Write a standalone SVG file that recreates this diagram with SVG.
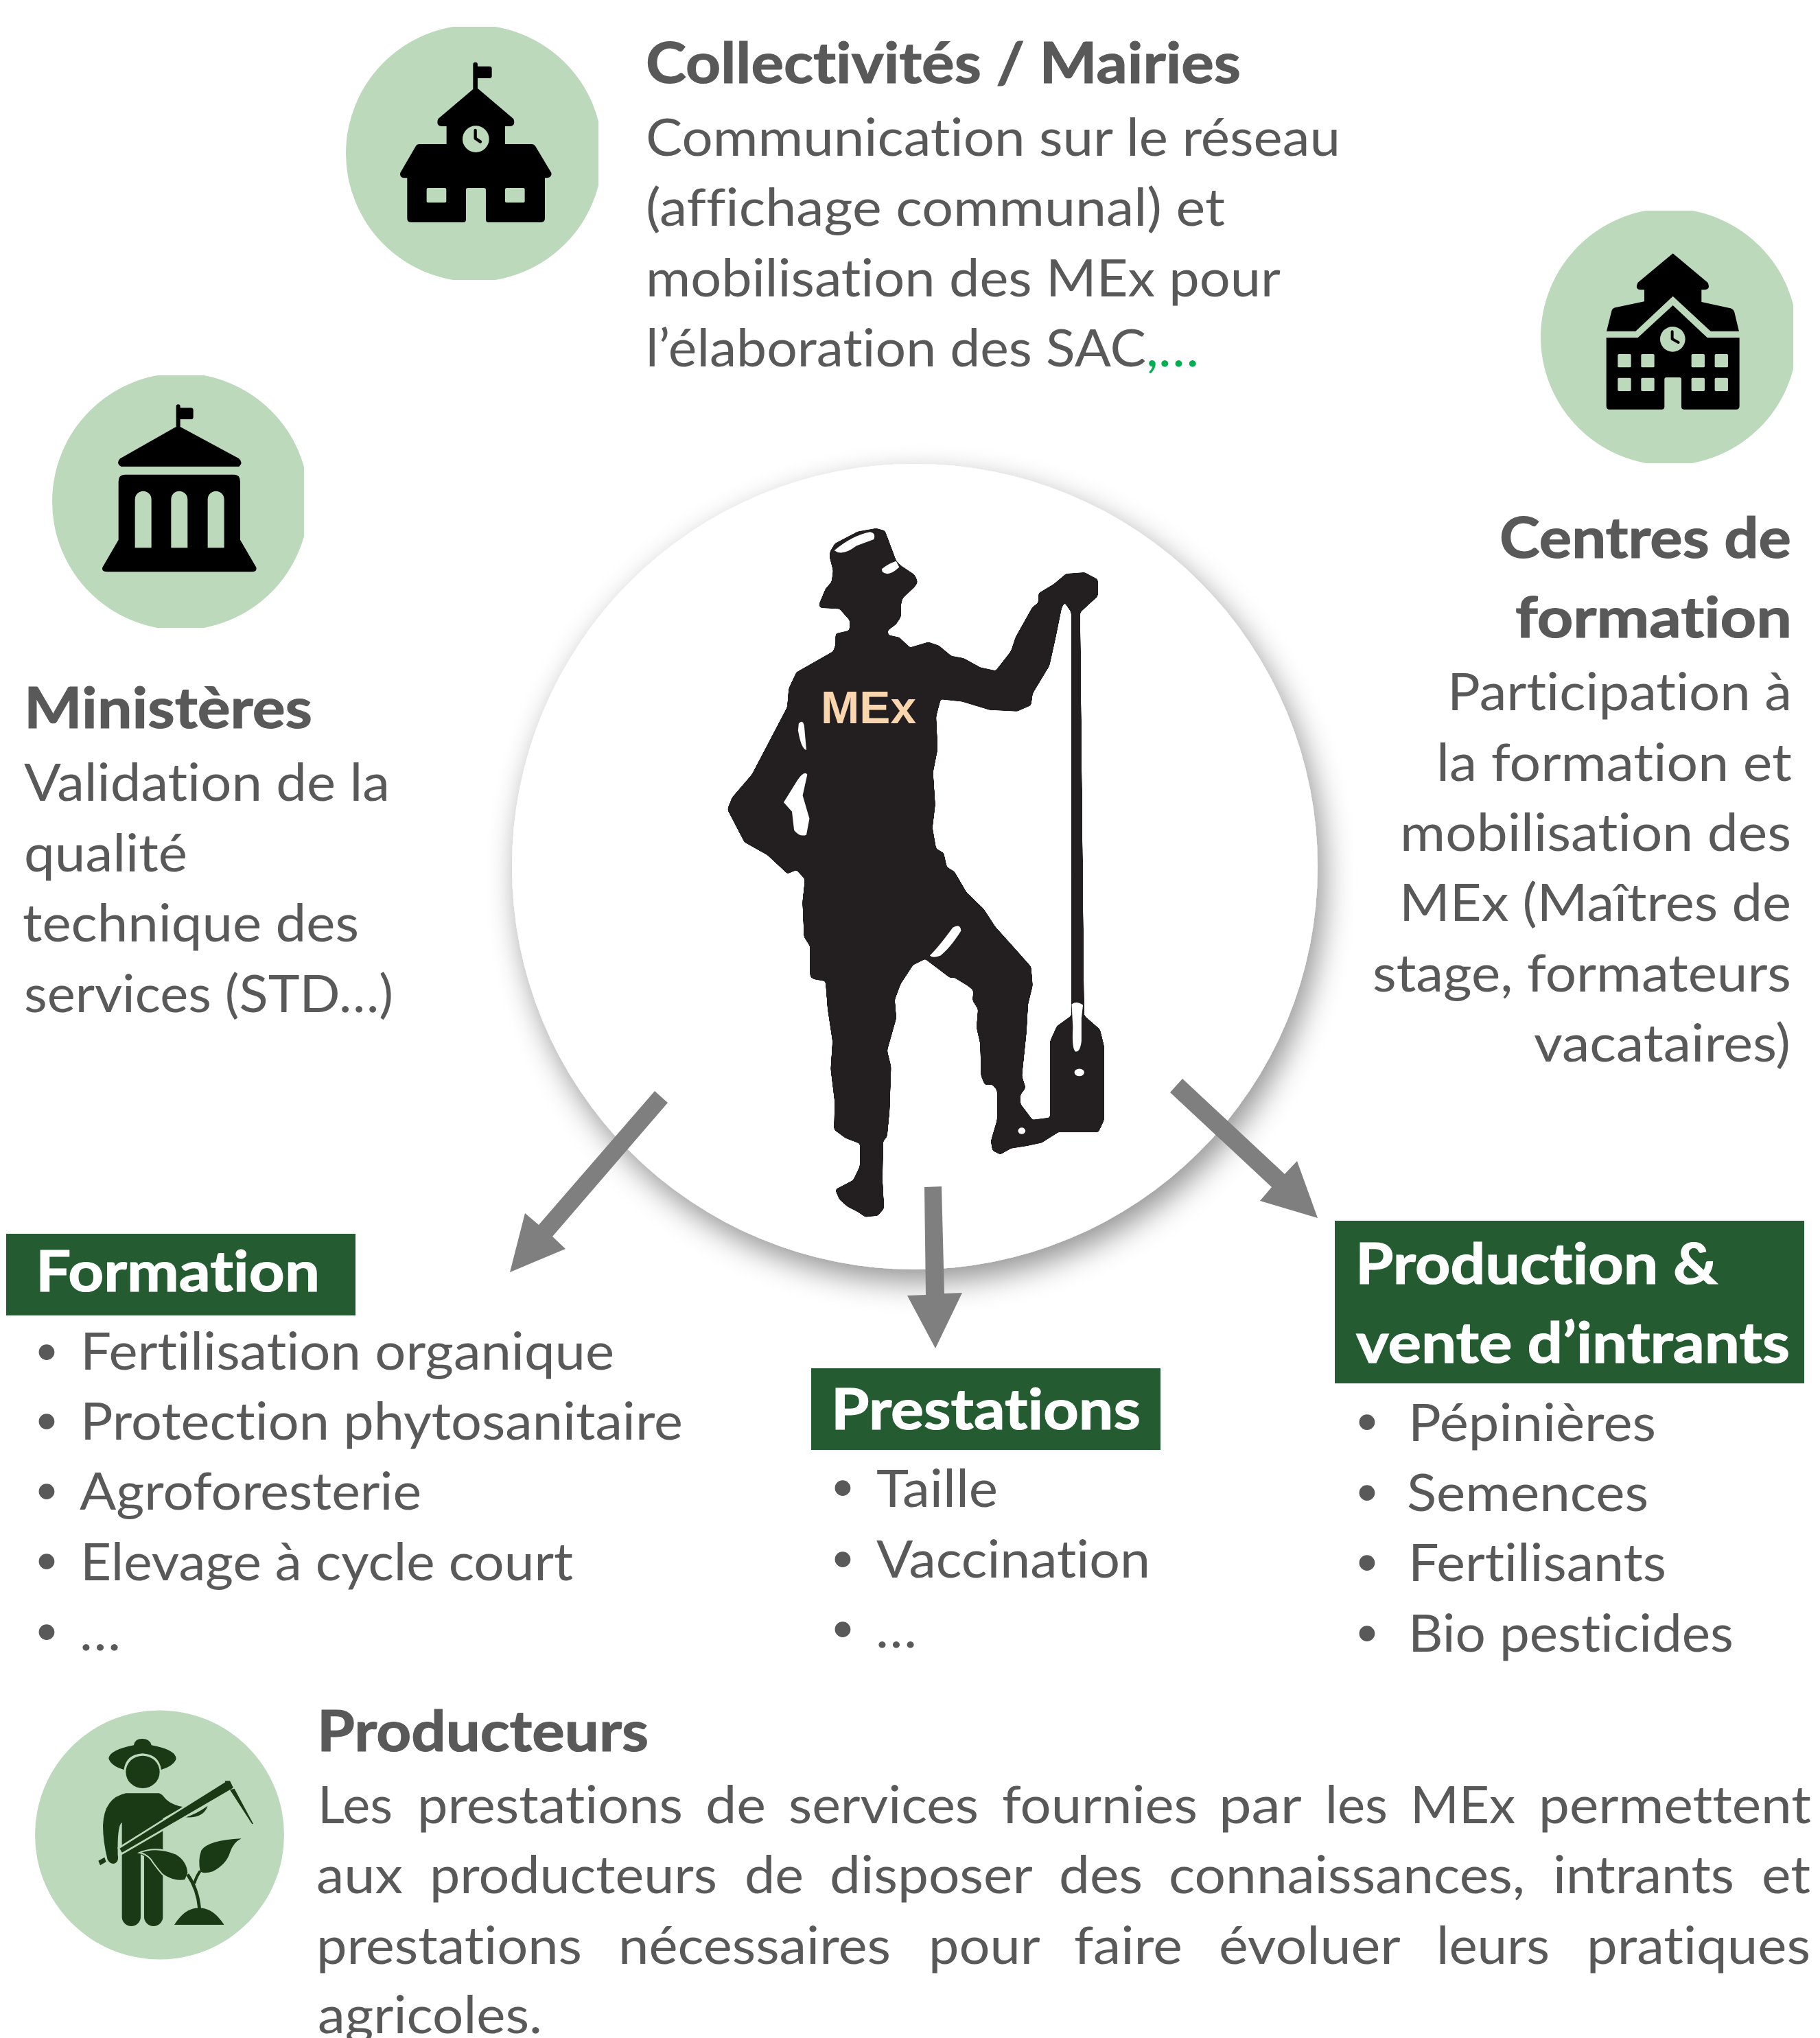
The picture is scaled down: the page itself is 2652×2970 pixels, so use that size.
<svg xmlns="http://www.w3.org/2000/svg" width="2652" height="2970" viewBox="0 0 2652 2970">
<style>
text{font-family:"Lato","Carlito","Open Sans",sans-serif;fill:#595959;font-variant-ligatures:none}
.b{font-size:76px}
.h{font-size:83px;font-weight:700;stroke:#595959;stroke-width:1.2px}
.w{font-size:83px;font-weight:700;fill:#fff;stroke:#fff;stroke-width:1.2px}
.d{font-family:"Liberation Sans",sans-serif;font-size:84px;text-anchor:middle}
.bg{fill:#BDD9BC}
.hd{fill:#245B30}
.arr{fill:#7F7F7F}
.ink{fill:#000}
</style>
<defs>
<filter id="sh" x="-20%" y="-20%" width="140%" height="140%"><feDropShadow dx="9" dy="18" stdDeviation="22" flood-color="#000" flood-opacity="0.42"/></filter>
<filter id="sm" x="-5%" y="-5%" width="110%" height="110%" color-interpolation-filters="sRGB"><feGaussianBlur stdDeviation="4"/><feComponentTransfer><feFuncA type="linear" slope="10" intercept="-4.500"/></feComponentTransfer></filter>
<clipPath id="c1"><rect x="480" y="39" width="392" height="369"/></clipPath>
<clipPath id="c2"><rect x="2220" y="307" width="393" height="368"/></clipPath>
<clipPath id="c3"><rect x="60" y="547" width="383" height="368"/></clipPath>
</defs>
<rect width="2652" height="2970" fill="#fff"/>

<g id="node-mex">
<circle cx="1333" cy="1263" r="587" fill="#fff" filter="url(#sh)"/>
<g transform="translate(1000 740) scale(.4464 .6761)">
<path filter="url(#sm)" fill="#231F20" stroke="#231F20" stroke-width="2" stroke-linejoin="round" fill-rule="evenodd" d="M470 95 L485 78 L560 52 L620 45 L648 50 L685 115 L700 125 L745 145 L755 160 L745 170 L705 195 L700 210 L700 235 L685 250 L655 265 L660 275 L695 280 L730 302 L790 290 L825 298 L865 320 L905 325 L960 345 L1010 352 L1060 310 L1075 280 L1130 215 L1150 205 L1150 185 L1200 165 L1240 143 L1300 140 L1343 155 L1343 190 L1285 225 L1298 1095 L1350 1125 L1363 1160 L1363 1320 L1345 1345 L1215 1345 L1160 1368 L1110 1375 L1060 1380 L1025 1393 L1000 1385 L995 1365 L1015 1320 L1015 1255 L1000 1243 L975 1243 L963 1225 L960 1155 L948 1120 L953 1080 L935 1062 L938 1040 L920 1030 L875 1012 L860 1012 L780 972 L740 985 L700 1025 L680 1060 L685 1100 L655 1170 L668 1205 L663 1300 L655 1355 L642 1365 L640 1450 L645 1510 L625 1525 L585 1528 L560 1517 L525 1505 L500 1490 L487 1470 L545 1450 L567 1420 L568 1370 L520 1358 L483 1340 L485 1280 L472 1210 L478 1150 L462 1080 L455 1020 L415 1015 L405 1010 L405 945 L385 925 L380 850 L388 800 L360 780 L330 788 L265 748 L190 720 L135 650 L150 625 L215 575 L330 430 L335 390 L360 355 L480 310 L488 295 L488 272 L533 265 L535 243 L500 217 L440 215 L433 210 L455 175 L475 160 L480 135 L468 105 Z
M1235 203 L1257 225 L1258 1095 L1210 1118 L1188 1150 L1188 1315 L1130 1320 L1090 1285 L1090 1265 L1107 1250 L1095 1225 L1110 1130 L1115 1070 L1130 1030 L1125 990 L1085 960 L1010 905 L970 865 L915 830 L875 785 L850 775 L840 745 L815 735 L803 690 L812 640 L805 570 L820 520 L815 450 L830 412 L900 417 L990 435 L1080 438 L1125 425 L1130 400 L1185 340 L1205 280 L1225 215 Z"/>
<g fill="#fff">
<path d="M483 92 Q540 60 600 52 Q620 55 612 68 L555 82 Q510 105 483 92Z"/>
<path d="M638 132 Q660 120 685 115 L695 128 Q660 150 640 138Z"/>
<path d="M367 465 Q380 455 385 470 L392 522 Q375 520 365 480Z"/>
<path d="M318 635 L360 590 Q385 565 395 575 L380 620 L402 670 L392 705 Q370 710 352 695 L345 655Z"/>
<path d="M795 965 Q820 950 870 905 Q895 895 897 912 Q860 950 830 965 Q805 972 795 965Z"/>
<path d="M1258 1070 Q1275 1062 1295 1072 L1290 1100 L1290 1150 Q1285 1175 1270 1172 Q1258 1165 1262 1120Z"/>
<ellipse cx="1283" cy="1217" rx="16" ry="8"/>
<ellipse cx="1095" cy="1343" rx="12" ry="7"/>
</g>
</g>
<text x="1196" y="1054" textLength="139" lengthAdjust="spacingAndGlyphs" style="font-family:'Liberation Sans',sans-serif;font-size:67px;font-weight:700;fill:#F9D6AE">MEx</text>
</g>

<g id="connectors">
<polygon class="arr" points="954,1590 785,1785 765,1768 743,1854 824,1820 805,1802 973,1607"/>
<polygon class="arr" points="1347,1730 1372,1729 1376,1885 1402,1884 1363,1965 1322,1888 1349,1887"/>
<polygon class="arr" points="1723,1572 1872,1711 1890,1692 1920,1775 1836,1750 1853,1730 1705,1592"/>
</g>

<g id="node-collectivites">
<circle class="bg" cx="691" cy="223.500" r="187" clip-path="url(#c1)"/>
<g transform="translate(480 20) scale(.3333)">
<path class="ink" d="M628 330V222Q628 212 638 212Q648 212 648 222V230H700Q710 230 710 240V272Q710 282 700 282H648V326L805 460Q815 490 790 492H768V570H885Q895 570 900 578L970 695Q975 718 945 718H942V895Q942 912 925 912H695Q684 912 684 900V770Q684 762 676 762H605Q597 762 597 770V900Q597 912 585 912H357Q340 912 340 895V718H330Q305 718 310 695L378 578Q382 570 392 570H512V492H490Q465 490 475 460Z"/>
<circle class="bg" cx="640" cy="548" r="58"/>
<path d="M638 510V545L660 560" fill="none" stroke="#000" stroke-width="13" stroke-linecap="round" stroke-linejoin="round"/>
<rect class="bg" x="425" y="762" width="86" height="64" rx="6"/>
<rect class="bg" x="768" y="762" width="86" height="64" rx="6"/>
</g>
<text class="h" x="941" y="121" textLength="867" lengthAdjust="spacingAndGlyphs">Collectivités / Mairies</text>
<text class="b" x="941" y="227" textLength="1012" lengthAdjust="spacingAndGlyphs">Communication sur le réseau</text>
<text class="b" x="941" y="329" textLength="844" lengthAdjust="spacingAndGlyphs">(affichage communal) et</text>
<text class="b" x="941" y="432" textLength="925" lengthAdjust="spacingAndGlyphs">mobilisation des MEx pour</text>
<text class="b" x="941" y="534" textLength="806" lengthAdjust="spacingAndGlyphs">l’élaboration des SAC<tspan style="fill:#00B050">,…</tspan></text>
</g>

<g id="node-centres">
<circle class="bg" cx="2432" cy="491" r="187" clip-path="url(#c2)"/>
<g transform="translate(2220 290) scale(.3333)">
<path class="ink" d="M653 238L805 365Q820 395 790 397H778V450L905 478Q918 482 922 495L942 578H818L653 425L490 578H363L385 490Q388 478 400 475L528 448V397H512Q485 395 500 365Z"/>
<path class="ink" d="M653 465L803 606H944V905Q944 920 930 920H702Q690 920 690 908V788Q690 780 682 780H625Q616 780 616 788V908Q616 920 604 920H376Q362 920 362 905V606H500Z"/>
<circle class="bg" cx="652" cy="613" r="55"/>
<path d="M650 580V612L677 627" fill="none" stroke="#000" stroke-width="12" stroke-linecap="round" stroke-linejoin="round"/>
<g class="bg">
<rect x="412" y="678" width="58" height="58" rx="5"/><rect x="514" y="678" width="58" height="58" rx="5"/><rect x="734" y="678" width="58" height="58" rx="5"/><rect x="836" y="678" width="58" height="58" rx="5"/>
<rect x="412" y="782" width="58" height="58" rx="5"/><rect x="514" y="782" width="58" height="58" rx="5"/><rect x="734" y="782" width="58" height="58" rx="5"/><rect x="836" y="782" width="58" height="58" rx="5"/>
</g>
</g>
<text class="h" x="2185" y="813" textLength="425" lengthAdjust="spacingAndGlyphs">Centres de</text>
<text class="h" x="2208" y="929" textLength="403" lengthAdjust="spacingAndGlyphs">formation</text>
<text class="b" x="2109" y="1035" textLength="502" lengthAdjust="spacingAndGlyphs">Participation à</text>
<text class="b" x="2093" y="1138" textLength="518" lengthAdjust="spacingAndGlyphs">la formation et</text>
<text class="b" x="2040" y="1240" textLength="570" lengthAdjust="spacingAndGlyphs">mobilisation des</text>
<text class="b" x="2039" y="1342" textLength="571" lengthAdjust="spacingAndGlyphs">MEx (Maîtres de</text>
<text class="b" x="2000" y="1445" textLength="610" lengthAdjust="spacingAndGlyphs">stage, formateurs</text>
<text class="b" x="2235" y="1547" textLength="374" lengthAdjust="spacingAndGlyphs">vacataires)</text>
</g>

<g id="node-ministeres">
<circle class="bg" cx="263" cy="731" r="187" clip-path="url(#c3)"/>
<g transform="translate(60 540) scale(.3333)">
<path class="ink" d="M590 246V158Q590 148 599 148Q608 148 608 158V163H655Q665 163 665 173V203Q665 213 655 213H608V246L865 385Q885 405 865 420H350Q325 405 345 385Z"/>
<path class="ink" fill-rule="evenodd" d="M365 455H845Q870 455 870 485V740L940 860Q945 880 920 880H290Q262 880 268 860L338 740V485Q338 455 365 455ZM410 775H482V563A36 36 0 0 0 410 563ZM568 775H640V563A36 36 0 0 0 568 563ZM728 775H800V563A36 36 0 0 0 728 563Z"/>
</g>
<text class="h" x="35" y="1061" textLength="420" lengthAdjust="spacingAndGlyphs">Ministères</text>
<text class="b" x="35" y="1167" textLength="533" lengthAdjust="spacingAndGlyphs">Validation de la</text>
<text class="b" x="35" y="1270" textLength="238" lengthAdjust="spacingAndGlyphs">qualité</text>
<text class="b" x="33" y="1372" textLength="490" lengthAdjust="spacingAndGlyphs">technique des</text>
<text class="b" x="35" y="1475" textLength="538" lengthAdjust="spacingAndGlyphs">services (STD…)</text>
</g>

<g id="node-formation">
<rect class="hd" x="9" y="1798" width="509" height="119"/>
<text class="w" x="52" y="1882" textLength="414" lengthAdjust="spacingAndGlyphs">Formation</text>
<text class="d" x="68" y="1998">•</text><text class="b" x="117" y="1996" textLength="778" lengthAdjust="spacingAndGlyphs">Fertilisation organique</text>
<text class="d" x="68" y="2099">•</text><text class="b" x="117" y="2098" textLength="878" lengthAdjust="spacingAndGlyphs">Protection phytosanitaire</text>
<text class="d" x="68" y="2201">•</text><text class="b" x="116" y="2200" textLength="498" lengthAdjust="spacingAndGlyphs">Agroforesterie</text>
<text class="d" x="68" y="2303">•</text><text class="b" x="117" y="2303" textLength="718" lengthAdjust="spacingAndGlyphs">Elevage à cycle court</text>
<text class="d" x="68" y="2406">•</text><text class="b" x="116" y="2405" textLength="60" lengthAdjust="spacingAndGlyphs">…</text>
</g>

<g id="node-prestations">
<rect class="hd" x="1182" y="1994" width="509" height="119"/>
<text class="w" x="1211" y="2083" textLength="451" lengthAdjust="spacingAndGlyphs">Prestations</text>
<text class="d" x="1228" y="2196">•</text><text class="b" x="1277" y="2196" textLength="177" lengthAdjust="spacingAndGlyphs">Taille</text>
<text class="d" x="1228" y="2300">•</text><text class="b" x="1277" y="2299" textLength="399" lengthAdjust="spacingAndGlyphs">Vaccination</text>
<text class="d" x="1228" y="2402">•</text><text class="b" x="1276" y="2401" textLength="60" lengthAdjust="spacingAndGlyphs">…</text>
</g>

<g id="node-production">
<rect class="hd" x="1945" y="1779" width="684" height="237"/>
<text class="w" x="1975" y="1871" textLength="528" lengthAdjust="spacingAndGlyphs">Production &amp;</text>
<text class="w" x="1976" y="1986" textLength="632" lengthAdjust="spacingAndGlyphs">vente d’intrants</text>
<text class="d" x="1992" y="2100">•</text><text class="b" x="2052" y="2100" textLength="361" lengthAdjust="spacingAndGlyphs">Pépinières</text>
<text class="d" x="1992" y="2203">•</text><text class="b" x="2050" y="2202" textLength="352" lengthAdjust="spacingAndGlyphs">Semences</text>
<text class="d" x="1992" y="2305">•</text><text class="b" x="2052" y="2304" textLength="376" lengthAdjust="spacingAndGlyphs">Fertilisants</text>
<text class="d" x="1992" y="2408">•</text><text class="b" x="2052" y="2407" textLength="474" lengthAdjust="spacingAndGlyphs">Bio pesticides</text>
</g>

<g id="node-producteurs">
<circle class="bg" cx="232.500" cy="2674" r="181.500"/>
<g transform="translate(40 2480) scale(.3333)" fill="#1A3915">
<path d="M465 190Q470 160 503 162Q535 162 542 190Q650 210 650 250Q640 280 585 297Q575 230 503 226Q430 230 422 297Q365 280 355 248Q360 210 465 190Z"/>
<ellipse cx="504" cy="307" rx="74" ry="71"/>
<path d="M430 400H575Q590 405 600 420Q625 450 682 460L592 510V940A41 41 0 0 1 510 940V675L495 665V940A41 41 0 0 1 413 940V528Q392 540 395 670Q400 695 385 705Q365 715 350 690Q330 610 330 540Q335 420 430 400Z"/>
<path d="M690 505Q770 510 788 455Q740 490 690 505Z"/>
<path d="M398 640L860 350L858 342L888 342L905 378L412 665Z" stroke="#BDD9BC" stroke-width="8"/>
<path d="M310 695L337 680L344 700L318 715Z"/>
<path d="M885 385L905 380L987 533L982 535Z"/>
<path d="M490 660Q560 630 650 665Q700 695 703 750L690 780Q640 790 590 755Q560 720 540 690Q520 665 490 660Z" stroke="#BDD9BC" stroke-width="6"/>
<path d="M700 755Q745 820 752 905" fill="none" stroke="#1A3915" stroke-width="14"/>
<path d="M755 740Q735 770 730 795" fill="none" stroke="#1A3915" stroke-width="12"/>
<path d="M935 598Q900 615 885 660Q870 710 810 742Q770 755 755 740Q745 690 760 650Q790 605 935 598Z"/>
<path d="M642 975Q690 900 750 902Q810 900 860 975Z"/>
</g>
<text class="h" x="462" y="2552" textLength="483" lengthAdjust="spacingAndGlyphs">Producteurs</text>
<text class="b" y="2657"><tspan x="463" textLength="109" lengthAdjust="spacingAndGlyphs">Les</tspan> <tspan x="608" textLength="387" lengthAdjust="spacingAndGlyphs">prestations</tspan> <tspan x="1028" textLength="88" lengthAdjust="spacingAndGlyphs">de</tspan> <tspan x="1149" textLength="277" lengthAdjust="spacingAndGlyphs">services</tspan> <tspan x="1460" textLength="285" lengthAdjust="spacingAndGlyphs">fournies</tspan> <tspan x="1776" textLength="119" lengthAdjust="spacingAndGlyphs">par</tspan> <tspan x="1931" textLength="91" lengthAdjust="spacingAndGlyphs">les</tspan> <tspan x="2055" textLength="153" lengthAdjust="spacingAndGlyphs">MEx</tspan> <tspan x="2242" textLength="397" lengthAdjust="spacingAndGlyphs">permettent</tspan></text>
<text class="b" y="2759"><tspan x="461" textLength="126" lengthAdjust="spacingAndGlyphs">aux</tspan> <tspan x="626" textLength="419" lengthAdjust="spacingAndGlyphs">producteurs</tspan> <tspan x="1085" textLength="86" lengthAdjust="spacingAndGlyphs">de</tspan> <tspan x="1209" textLength="294" lengthAdjust="spacingAndGlyphs">disposer</tspan> <tspan x="1543" textLength="122" lengthAdjust="spacingAndGlyphs">des</tspan> <tspan x="1703" textLength="519" lengthAdjust="spacingAndGlyphs">connaissances,</tspan> <tspan x="2263" textLength="264" lengthAdjust="spacingAndGlyphs">intrants</tspan> <tspan x="2567" textLength="71" lengthAdjust="spacingAndGlyphs">et</tspan></text>
<text class="b" y="2862"><tspan x="461" textLength="387" lengthAdjust="spacingAndGlyphs">prestations</tspan> <tspan x="901" textLength="397" lengthAdjust="spacingAndGlyphs">nécessaires</tspan> <tspan x="1353" textLength="161" lengthAdjust="spacingAndGlyphs">pour</tspan> <tspan x="1565" textLength="158" lengthAdjust="spacingAndGlyphs">faire</tspan> <tspan x="1776" textLength="263" lengthAdjust="spacingAndGlyphs">évoluer</tspan> <tspan x="2093" textLength="165" lengthAdjust="spacingAndGlyphs">leurs</tspan> <tspan x="2312" textLength="326" lengthAdjust="spacingAndGlyphs">pratiques</tspan></text>
<text class="b" x="463" y="2963" textLength="327" lengthAdjust="spacingAndGlyphs">agricoles.</text>
</g>
</svg>
